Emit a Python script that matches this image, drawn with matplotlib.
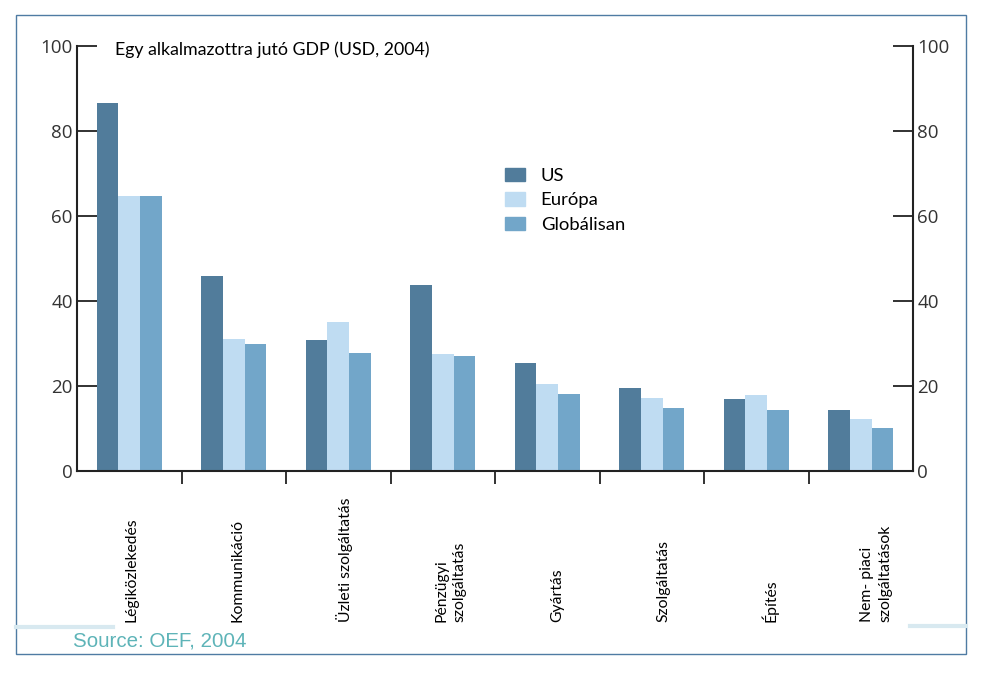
import numpy as np
import matplotlib
matplotlib.use("Agg")
from matplotlib import pyplot as plt
from matplotlib.patches import Rectangle
from matplotlib.lines import Line2D

# GDP per employee (USD, 2004)
categories = ["Légiközlekedés", "Kommunikáció", "Üzleti szolgáltatás",
              "Pénzügyi\nszolgáltatás", "Gyártás", "Szolgáltatás", "Építés",
              "Nem- piaci\nszolgáltatások"]
us = [86.6, 46.0, 30.8, 43.8, 25.3, 19.5, 16.9, 14.4]
europa = [64.7, 31.1, 35.0, 27.6, 20.5, 17.1, 17.8, 12.2]
globalisan = [64.7, 29.8, 27.8, 27.1, 18.1, 14.8, 14.4, 10.1]
series_names = ["US", "Európa", "Globálisan"]
y_ticks = [0, 20, 40, 60, 80, 100]

colors = ["#517c9b", "#bfdcf2", "#72a6c9"]
text_font = ["Lato", "DejaVu Sans"]
num_font = ["Open Sans", "DejaVu Sans"]

W, H = 983, 677
fig = plt.figure(figsize=(W / 100, H / 100), dpi=100)
fig.patch.set_facecolor("white")

ax = fig.add_axes([77 / W, 1 - 471 / H, (913 - 77) / W, (471 - 46) / H])
ax.set_xlim(0, len(categories))
ax.set_ylim(0, 100)

x = np.arange(len(categories)) + 0.5
bw = 0.207
for k, vals in enumerate([us, europa, globalisan]):
  ax.bar(x + (k - 1) * bw, vals, width=bw, color=colors[k], linewidth=0,
         label=series_names[k])

# Axis styling
ax.spines["top"].set_visible(False)
for s in ["left", "right", "bottom"]:
  ax.spines[s].set_linewidth(1.5)
  ax.spines[s].set_color("#222222")

ax.set_yticks(y_ticks)
ax.tick_params(axis="y", direction="in", length=14.5, width=1.3,
               left=True, right=True, labelleft=True, labelright=True,
               labelsize=13.5, labelcolor="#333333", color="#222222")
ax.tick_params(axis="y", which="major", pad=3)
for lab in ax.get_yticklabels():
  lab.set_fontfamily(num_font)

ax.set_xticks(np.arange(1, len(categories)))
ax.set_xticklabels([])
ax.tick_params(axis="x", direction="out", length=9, width=1.3, color="#222222")

# Rotated category labels under the axis
for i, name in enumerate(categories):
  shift = 0.02 + 0.13 * i / (len(categories) - 1)
  ax.text(x[i] + shift, -35.5, name, rotation=90, rotation_mode="anchor",
          ha="left", va="center", multialignment="left",
          fontsize=11.3, family=text_font, color="black",
          transform=ax.transData, clip_on=False, linespacing=1.4)

# Title inside the plot area
ax.text(115 / W, 1 - 50 / H, "Egy alkalmazottra jutó GDP (USD, 2004)",
        transform=fig.transFigure, fontsize=12.8, family=text_font,
        ha="left", va="center")

# Legend
handles = [Rectangle((0, 0), 1, 1, color=c) for c in colors]
leg = fig.legend(handles, series_names, loc="upper left",
                 bbox_to_anchor=(488 / W, 1 - 151 / H), frameon=False,
                 prop={"family": text_font, "size": 13.3},
                 handlelength=1.1, handleheight=0.75, handletextpad=0.85,
                 labelspacing=0.45)

# Outer frame and source note
fig.add_artist(Rectangle((16 / W, 1 - 654 / H), (966 - 16) / W, (654 - 15) / H,
                         transform=fig.transFigure, fill=False,
                         edgecolor="#4f7ba3", linewidth=1.0))
fig.add_artist(Line2D([16 / W, 113 / W], [1 - 627 / H] * 2,
                      transform=fig.transFigure, color="#d8e9f0", linewidth=3))
fig.add_artist(Line2D([910 / W, 966 / W], [1 - 626 / H] * 2,
                      transform=fig.transFigure, color="#d8e9f0", linewidth=3))
fig.text(73 / W, 1 - 641 / H, "Source: OEF, 2004", fontsize=14.8,
         family=["Liberation Sans", "DejaVu Sans"], color="#5eb4b8",
         ha="left", va="center")

fig.savefig("out.png", dpi=100, facecolor="white")
